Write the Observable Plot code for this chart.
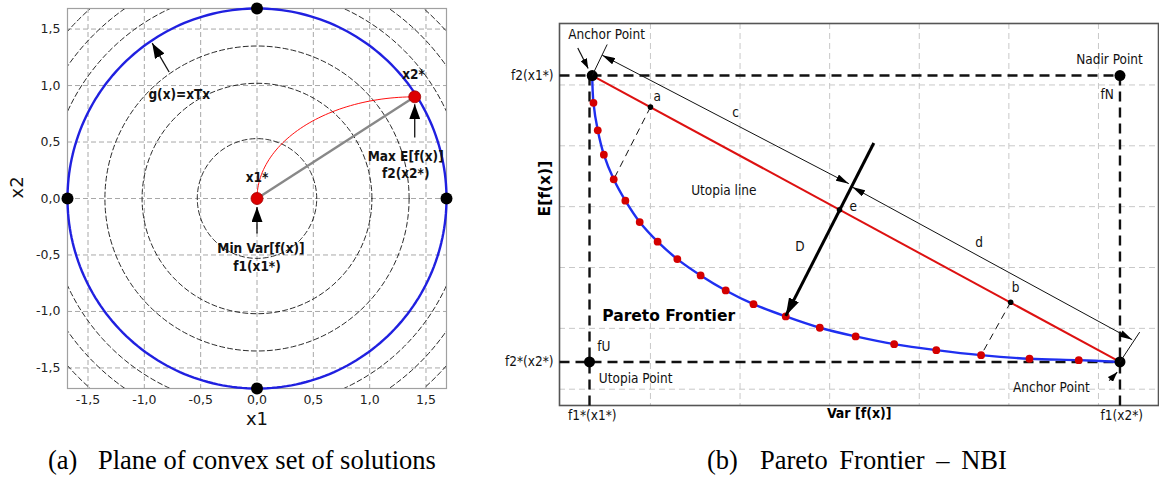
<!DOCTYPE html>
<html>
<head>
<meta charset="utf-8">
<script src="https://cdn.jsdelivr.net/npm/d3@7"></script>
<script src="https://cdn.jsdelivr.net/npm/@observablehq/plot@0.6"></script>
<style>
  html, body { margin: 0; padding: 0; background: #fff; }
  #wrap { position: relative; width: 1159px; height: 496px; overflow: hidden; }
  #left { position: absolute; left: 0; top: 0; }
  #right { position: absolute; left: 480px; top: 0; }
  .cap { position: absolute; top: 445px; font-family: "Liberation Serif", "Times New Roman", serif;
         font-size: 26.5px; color: #000; white-space: pre; line-height: 1.2; }
</style>
</head>
<body>
<div id="wrap">
  <div id="left"></div>
  <div id="right"></div>
  <div class="cap" style="left:48px">(a)</div>
  <div class="cap" style="left:98px">Plane of convex set of solutions</div>
  <div class="cap" style="left:707px">(b)</div>
  <div class="cap" style="left:760px; word-spacing:5px">Pareto Frontier – NBI</div>
</div>
<script>
// ---------- Panel (a): design space x1, x2 ----------
const gridTicks = [-1.5, -1, -0.5, 0, 0.5, 1, 1.5];
const contourRadii = [0.53, 1.02, 1.35, 1.85, 2.05, 2.24];
const constraintRadius = 1.682;
const axialX = [-1.682, 1.682, 0, 0];
const axialY = [0, 0, -1.682, 1.682];
const optimumX = [0, 1.40];   // x1*, x2*
const optimumY = [0, 0.90];

// annotation arrows (tail -> head), in x1/x2 units
const leftArrowX1 = [0, 1.40, -0.78];
const leftArrowY1 = [-0.31, 0.54, 1.12];
const leftArrowX2 = [0, 1.40, -0.93];
const leftArrowY2 = [-0.075, 0.835, 1.375];

const leftLabelText = ["g(x)=xTx", "x1*", "x2*", "Max E[f(x)]", "f2(x2*)", "Min Var[f(x)]", "f1(x1*)"];
const leftLabelX = [-0.69, 0.0, 1.39, 1.32, 1.32, 0.035, 0.0];
const leftLabelY = [0.92, 0.18, 1.10, 0.37, 0.22, -0.44, -0.60];

// ---------- Panel (b): objective space ----------
const paretoX = [0.364, 0.412, 0.48, 0.59, 0.72, 0.88, 1.08, 1.30, 1.56, 1.84, 2.15, 2.51, 2.89, 3.29, 3.72, 4.19, 4.69, 5.23, 5.78];
const paretoY = [5.707, 5.255, 4.855, 4.449, 4.099, 3.747, 3.424, 3.138, 2.870, 2.623, 2.398, 2.196, 2.010, 1.867, 1.740, 1.642, 1.559, 1.500, 1.477];
const anchorX = [0.35, 6.24];   // f(x1*), f(x2*)
const anchorY = [6.155, 1.448];
const utopiaPt = [0.32, 1.448];
const nadirPt = [6.24, 6.155];
const utopiaLineNames = ["a", "e", "b"];
const utopiaLineX = [1.0, 3.11, 5.02];
const utopiaLineY = [5.636, 3.95, 2.43];
const gridB = [1, 2, 3, 4, 5, 6];
const xTickB = [0.35, 6.26];
const xTickLabelB = ["f1*(x1*)", "f1(x2*)"];
const yTickB = [6.155, 1.448];
const yTickLabelB = ["f2(x1*)", "f2*(x2*)"];

const sansCond = '"DejaVu Sans Condensed", "DejaVu Sans", sans-serif';

function ring(r, n = 240) {
  return d3.range(n + 1).map(i => {
    const t = 2 * Math.PI * i / n;
    return {r, x: r * Math.cos(t), y: r * Math.sin(t)};
  });
}
const contourPts = contourRadii.flatMap(r => ring(r));
const constraintPts = ring(constraintRadius);
// path from x1* to x2*: quarter ellipse leaving x1* vertically, reaching x2* horizontally
const pathPts = d3.range(61).map(i => {
  const t = (Math.PI / 2) * i / 60;
  return {
    x: optimumX[0] + (optimumX[1] - optimumX[0]) * (1 - Math.cos(t)),
    y: optimumY[0] + (optimumY[1] - optimumY[0]) * Math.sin(t)
  };
});
const fmtComma = d => d.toFixed(1).replace(".", ",");
const idx = n => d3.range(n);

const left = Plot.plot({
  width: 480, height: 440,
  marginLeft: 67, marginRight: 34, marginTop: 8, marginBottom: 52,
  x: {domain: [-1.682, 1.682]},
  y: {domain: [-1.682, 1.682]},
  style: {fontFamily: '"DejaVu Sans", sans-serif', fontSize: "12.5px", background: "transparent", color: "#222"},
  marks: [
    Plot.gridX(gridTicks, {stroke: "#a8a8a8", strokeOpacity: 1, strokeDasharray: "5,3"}),
    Plot.gridY(gridTicks, {stroke: "#a8a8a8", strokeOpacity: 1, strokeDasharray: "5,3"}),
    Plot.line(contourPts, {x: "x", y: "y", z: "r", stroke: "#111", strokeWidth: 0.9, strokeDasharray: "5,3", clip: true}),
    Plot.frame({stroke: "#a0a0a0", strokeWidth: 1.2}),
    Plot.line(constraintPts, {x: "x", y: "y", stroke: "#2020e0", strokeWidth: 2.4}),
    Plot.line(pathPts, {x: "x", y: "y", stroke: "#ff1010", strokeWidth: 1}),
    Plot.link([0], {x1: optimumX[0], y1: optimumY[0], x2: optimumX[1], y2: optimumY[1], stroke: "#888", strokeWidth: 2.4}),
    Plot.link(idx(3), {x1: i => leftArrowX1[i], y1: i => leftArrowY1[i], x2: i => leftArrowX2[i], y2: i => leftArrowY2[i],
      stroke: "#111", strokeWidth: 1.3, ariaDescription: "arrow-a"}),
    Plot.dot(idx(4), {x: i => axialX[i], y: i => axialY[i], r: 6, fill: "#000"}),
    Plot.dot(idx(2), {x: i => optimumX[i], y: i => optimumY[i], r: 6, fill: "#dd0000", stroke: "#a00000", strokeWidth: 0.8}),
    Plot.text(idx(leftLabelText.length), {x: i => leftLabelX[i], y: i => leftLabelY[i], text: i => leftLabelText[i],
      fontFamily: sansCond, fontWeight: "bold", fontSize: 13.5, fill: "#111"}),
    Plot.axisX(gridTicks, {tickFormat: fmtComma, tickSize: 0, tickPadding: 7, label: null}),
    Plot.axisY(gridTicks, {tickFormat: fmtComma, tickSize: 0, tickPadding: 7, label: null}),
    Plot.text(["x1"], {frameAnchor: "bottom", dy: 36, fontSize: 18, fill: "#111"}),
    Plot.text(["x2"], {frameAnchor: "left", dx: -50, rotate: -90, fontSize: 18, fill: "#111"})
  ]
});

// ---------- Panel (b) plot ----------
const cArrow = {x1: 0.462, y1: 6.489, x2: 3.214, y2: 4.378};
const dArrow = {x1: 3.252, y1: 4.322, x2: 6.377, y2: 1.813};
const bigArrow = {x1: 3.493, y1: 5.046, x2: 2.51, y2: 2.205};
const rightLabelText = ["Anchor Point", "Nadir Point", "fN", "a", "c", "Utopia line", "e", "D", "d", "b", "Anchor Point"];
const rightLabelX = [0.51, 6.123, 6.098, 1.075, 1.949, 1.819, 3.263, 2.667, 4.669, 5.074, 5.474];
const rightLabelY = [6.82, 6.418, 5.847, 5.814, 5.55, 4.268, 4.005, 3.347, 3.402, 2.668, 1.023];

const xMapB = new Map(xTickB.map((t, i) => [t, xTickLabelB[i]]));
const yMapB = new Map(yTickB.map((t, i) => [t, yTickLabelB[i]]));

const curvePts = [
  {x: anchorX[0], y: anchorY[0]},
  ...paretoX.map((x, i) => ({x, y: paretoY[i]})),
  {x: anchorX[1], y: anchorY[1]}
];

const right = Plot.plot({
  width: 679, height: 440,
  marginLeft: 79, marginRight: 1, marginTop: 23, marginBottom: 35,
  x: {domain: [-0.015, 6.67]},
  y: {domain: [0.732, 7.01]},
  style: {fontFamily: sansCond, fontSize: "13.5px", background: "transparent", color: "#111"},
  marks: [
    Plot.gridX(gridB, {stroke: "#c8c8c8", strokeOpacity: 1, strokeDasharray: "6,4"}),
    Plot.gridY(gridB, {stroke: "#c8c8c8", strokeOpacity: 1, strokeDasharray: "6,4"}),
    Plot.frame({stroke: "#555", strokeWidth: 1.6}),
    // reference lines through anchor, utopia and nadir points
    Plot.link(idx(4), {
      x1: [-0.015, -0.015, utopiaPt[0], nadirPt[0]],
      y1: [nadirPt[1], utopiaPt[1], anchorY[0], nadirPt[1]],
      x2: [nadirPt[0], anchorX[1], utopiaPt[0], nadirPt[0]],
      y2: [nadirPt[1], utopiaPt[1], 0.732, 0.732],
      stroke: "#111", strokeWidth: 2.4, strokeDasharray: "10,6"
    }),
    // utopia line
    Plot.link([0], {x1: anchorX[0], y1: anchorY[0], x2: anchorX[1], y2: anchorY[1], stroke: "#dd1111", strokeWidth: 2}),
    // projections onto the frontier
    Plot.link(idx(2), {
      x1: [utopiaLineX[0], utopiaLineX[2]], y1: [utopiaLineY[0], utopiaLineY[2]],
      x2: [paretoX[3], paretoX[16]], y2: [paretoY[3], paretoY[16]],
      stroke: "#111", strokeWidth: 1, strokeDasharray: "7,5"
    }),
    Plot.line(curvePts, {x: "x", y: "y", curve: "catmull-rom", stroke: "#1f2ff0", strokeWidth: 2.4}),
    Plot.dot(idx(paretoX.length), {x: i => paretoX[i], y: i => paretoY[i], r: 3.9, fill: "#d40000"}),
    Plot.dot(idx(3), {x: i => utopiaLineX[i], y: i => utopiaLineY[i], r: 2.8, fill: "#000"}),
    Plot.dot(idx(4), {x: [anchorX[0], anchorX[1], utopiaPt[0], nadirPt[0]], y: [anchorY[0], anchorY[1], utopiaPt[1], nadirPt[1]], r: 5.5, fill: "#000"}),
    // witness lines at the anchor points
    Plot.link(idx(2), {x1: anchorX, y1: anchorY, x2: [0.517, 6.46], y2: [6.665, 1.938], stroke: "#111", strokeWidth: 1}),
    // c and d (double headed)
    Plot.link([cArrow, dArrow], {x1: "x1", y1: "y1", x2: "x2", y2: "y2", stroke: "#111", strokeWidth: 1, ariaDescription: "arrow-cd"}),
    // D
    Plot.link([bigArrow], {x1: "x1", y1: "y1", x2: "x2", y2: "y2", stroke: "#000", strokeWidth: 3, ariaDescription: "arrow-big"}),
    // label pointers for the anchor points
    Plot.link(idx(2), {x1: [0.189, 6.12], y1: [6.609, 1.14], x2: [0.305, 6.209], y2: [6.27, 1.28], stroke: "#111", strokeWidth: 1.2, ariaDescription: "arrow-small"}),
    Plot.text(idx(rightLabelText.length), {x: i => rightLabelX[i], y: i => rightLabelY[i], text: i => rightLabelText[i], fill: "#111"}),
    Plot.text(["Pareto Frontier"], {x: 0.462, y: 2.196, textAnchor: "start", fontWeight: "bold", fontSize: 15.5, fontFamily: '"DejaVu Sans", sans-serif', fill: "#000"}),
    Plot.text(["fU"], {x: 0.406, y: 1.691, textAnchor: "start", fill: "#111"}),
    Plot.text(["Utopia Point"], {x: 0.424, y: 1.171, textAnchor: "start", fill: "#111"}),
    Plot.axisX(xTickB, {tickFormat: d => xMapB.get(d), tickSize: 0, tickPadding: 5, label: null}),
    Plot.axisY(yTickB, {tickFormat: d => yMapB.get(d), tickSize: 0, tickPadding: 6, label: null}),
    Plot.text(["Var [f(x)]"], {frameAnchor: "bottom", x: 3.33, dy: 12, fontWeight: "bold", fontSize: 14, fill: "#000"}),
    Plot.text(["E[f(x)]"], {frameAnchor: "left", y: 3.84, dx: -14, rotate: -90, fontWeight: "bold", fontSize: 15.5, fontFamily: '"DejaVu Sans", sans-serif', fill: "#000"})
  ]
});

// filled triangular arrowheads
function addHeads(svg, specs) {
  const s = d3.select(svg);
  const defs = s.insert("defs", ":first-child");
  for (const {id, len, wid} of specs) {
    defs.append("marker").attr("id", id)
      .attr("viewBox", "0 0 10 10").attr("refX", 10).attr("refY", 5)
      .attr("markerUnits", "userSpaceOnUse").attr("markerWidth", len).attr("markerHeight", wid)
      .attr("preserveAspectRatio", "none").attr("orient", "auto-start-reverse")
      .append("path").attr("d", "M0,0L10,5L0,10Z").attr("fill", "#000");
  }
  return s;
}
function headsOn(s, desc) {
  return s.selectAll("g").filter(function () { return this.getAttribute("aria-description") === desc; }).selectAll("path, line");
}
const sl = addHeads(left, [{id: "headA", len: 15, wid: 11}]);
headsOn(sl, "arrow-a").attr("marker-end", "url(#headA)");
const sr = addHeads(right, [{id: "headCD", len: 13, wid: 7}, {id: "headBig", len: 18, wid: 11}, {id: "headSmall", len: 10, wid: 7}]);
headsOn(sr, "arrow-cd").attr("marker-start", "url(#headCD)").attr("marker-end", "url(#headCD)");
headsOn(sr, "arrow-big").attr("marker-end", "url(#headBig)");
headsOn(sr, "arrow-small").attr("marker-end", "url(#headSmall)");

document.getElementById("left").append(left);
document.getElementById("right").append(right);
</script>
</body>
</html>
